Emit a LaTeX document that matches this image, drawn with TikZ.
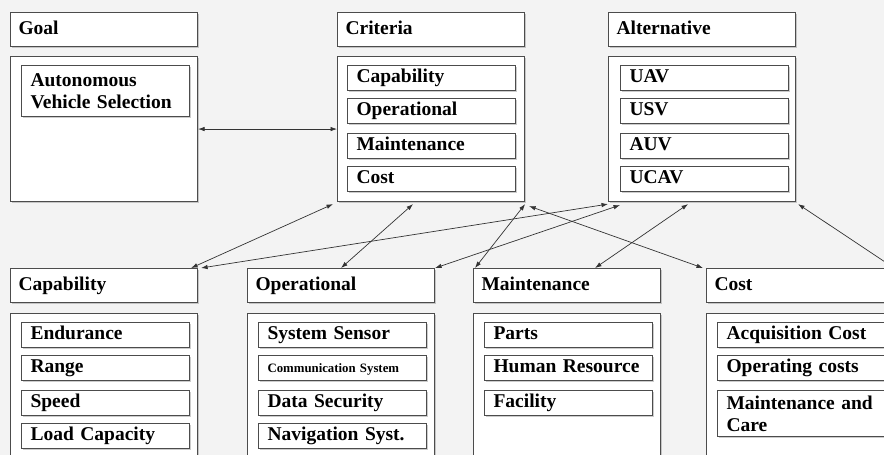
\documentclass[tikz,border=0pt]{standalone}
\usepackage{fontspec}
\setmainfont{Liberation Serif}
\usetikzlibrary{arrows.meta,shadows}

\definecolor{bgcol}{HTML}{F3F3F3}

\begin{document}
\begin{tikzpicture}[x=1pt,y=-1pt,
  every node/.style={font=\fontsize{19.5}{22}\selectfont\bfseries},
  box/.style={draw=black!70,line width=1.1pt,fill=white,anchor=north west,inner sep=0pt,
    drop shadow={shadow xshift=1.5pt,shadow yshift=-1.5pt,opacity=0.4}},
  head/.style={box,minimum height=34pt,text width=171pt,inner xsep=8pt,align=left,
    text height=13pt,text depth=4pt},
  panel/.style={box,minimum width=187pt,minimum height=145pt},
  item/.style={box,minimum height=25pt,text width=150pt,inner xsep=9pt,align=left,
    text height=13pt,text depth=4pt},
  twolines/.style={text height={},text depth={}},
  link/.style={{Latex[length=6.5pt,width=4.5pt]}-{Latex[length=6.5pt,width=4.5pt]},line width=0.7pt,black!80}]

\fill[bgcol] (0,0) rectangle (884,455);
\useasboundingbox (0,0) rectangle (884,455);

% top row
\node[head] (goal) at (10,12) {Goal};
\node[panel] (goalbox) at (10,56) {};
\node[item,twolines,minimum height=51pt] (avs) at (21,65) {Autonomous\\Vehicle Selection};

\node[head] (crit) at (337,12) {Criteria};
\node[panel] (critbox) at (337,56) {};
\node[item] (c1) at (347,65) {Capability};
\node[item] (c2) at (347,98) {Operational};
\node[item] (c3) at (347,133) {Maintenance};
\node[item] (c4) at (347,166) {Cost};

\node[head] (alt) at (608,12) {Alternative};
\node[panel] (altbox) at (608,56) {};
\node[item] (a1) at (620,65) {UAV};
\node[item] (a2) at (620,98) {USV};
\node[item] (a3) at (620,133) {AUV};
\node[item] (a4) at (620,166) {UCAV};

% bottom row
\node[head] (cap) at (10,268) {Capability};
\node[panel,minimum height=160pt] (capbox) at (10,313) {};
\node[item] (p1) at (21,322) {Endurance};
\node[item] (p2) at (21,355) {Range};
\node[item] (p3) at (21,390) {Speed};
\node[item] (p4) at (21,423) {Load Capacity};

\node[head] (op) at (247,268) {Operational};
\node[panel,minimum height=160pt] (opbox) at (247,313) {};
\node[item] (o1) at (258,322) {System Sensor};
\node[item,font=\fontsize{12.8}{14}\selectfont\bfseries] (o2) at (258,355) {Communication System};
\node[item] (o3) at (258,390) {Data Security};
\node[item] (o4) at (258,423) {Navigation Syst.};

\node[head] (mnt) at (473,268) {Maintenance};
\node[panel,minimum height=160pt] (mntbox) at (473,313) {};
\node[item] (m1) at (484,322) {Parts};
\node[item] (m2) at (484,355) {Human Resource};
\node[item] (m3) at (484,390) {Facility};

\node[head] (cost) at (706,268) {Cost};
\node[panel,minimum height=160pt] (costbox) at (706,313) {};
\node[item] (k1) at (717,322) {Acquisition Cost};
\node[item] (k2) at (717,355) {Operating costs};
\node[item,twolines,minimum height=46pt] (k3) at (717,390) {Maintenance and\\Care};

% links between the levels
\draw[link] (goalbox.east) -- (critbox.west);
\draw[link] ([xshift=-7pt]cap.north east) -- ([xshift=-4pt,yshift=-2pt]critbox.south west);
\draw[link] ([xshift=3pt]cap.north east) -- ([yshift=-2pt]altbox.south west);
\draw[link] (op.north) -- ([xshift=-18pt,yshift=-2pt]critbox.south);
\draw[link] (op.north east) -- ([xshift=12pt,yshift=-3pt]altbox.south west);
\draw[link] ([xshift=2pt]mnt.north west) -- ([yshift=-2pt]critbox.south east);
\draw[link] ([xshift=28pt]mnt.north) -- ([xshift=-14pt,yshift=-2pt]altbox.south);
\draw[link] ([xshift=-3pt]cost.north west) -- ([xshift=4pt,yshift=-4pt]critbox.south east);
\draw[link] (cost.north east) -- ([xshift=2pt,yshift=-2pt]altbox.south east);

\end{tikzpicture}
\end{document}
